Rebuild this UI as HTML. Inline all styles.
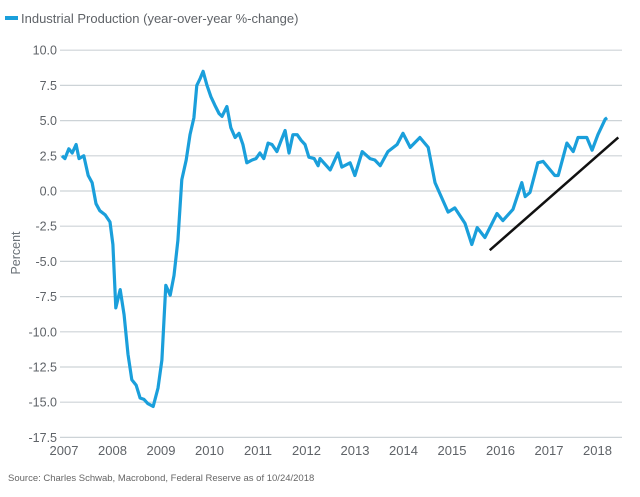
<!DOCTYPE html>
<html><head><meta charset="utf-8"><style>
body{margin:0;background:#fff;width:640px;height:492px;overflow:hidden;font-family:"Liberation Sans",sans-serif}
</style></head><body>
<svg id="chart" width="640" height="492" xmlns="http://www.w3.org/2000/svg">
<g id="grid"></g>
<g id="ylabels" font-size="12.5" fill="#5f6368" text-anchor="end"></g>
<g id="xlabels" font-size="13" fill="#5f6368" text-anchor="middle"></g>
<text transform="translate(20,253) rotate(-90)" font-size="12.5" fill="#6b7278" text-anchor="middle">Percent</text>
<g>
<line x1="5" y1="18" x2="18" y2="18" stroke="#1a9fdb" stroke-width="4"/>
<text x="21" y="23" font-size="13" fill="#5f6368">Industrial Production (year-over-year %-change)</text>
</g>
<path id="series" fill="none" stroke="#1a9fdb" stroke-width="3.2" stroke-linejoin="round"/>
<line id="trend" stroke="#111" stroke-width="2.5"/>
<text x="8" y="481" font-size="9.5" fill="#666">Source: Charles Schwab, Macrobond, Federal Reserve as of 10/24/2018</text>
</svg>
<script>
const yTicks=[10,7.5,5,2.5,0,-2.5,-5,-7.5,-10,-12.5,-15,-17.5];
const xYears=[2007,2008,2009,2010,2011,2012,2013,2014,2015,2016,2017,2018];
const dates=[2007.00,2007.06,2007.14,2007.21,2007.29,2007.35,2007.45,2007.54,2007.62,2007.70,2007.78,2007.89,2007.99,2008.05,2008.11,2008.20,2008.28,2008.36,2008.44,2008.53,2008.61,2008.69,2008.77,2008.88,2008.98,2009.06,2009.14,2009.23,2009.31,2009.39,2009.47,2009.56,2009.64,2009.72,2009.78,2009.85,2009.91,2009.99,2010.07,2010.15,2010.24,2010.30,2010.40,2010.48,2010.57,2010.65,2010.73,2010.81,2010.92,2011.00,2011.08,2011.16,2011.25,2011.33,2011.43,2011.52,2011.60,2011.68,2011.76,2011.85,2011.93,2012.01,2012.09,2012.20,2012.28,2012.32,2012.53,2012.69,2012.77,2012.94,2013.04,2013.19,2013.35,2013.45,2013.56,2013.72,2013.91,2014.03,2014.18,2014.38,2014.55,2014.69,2014.96,2015.10,2015.31,2015.45,2015.56,2015.72,2015.97,2016.09,2016.30,2016.48,2016.55,2016.65,2016.81,2016.92,2017.16,2017.23,2017.41,2017.54,2017.64,2017.82,2017.93,2018.05,2018.20,2018.24];
const values=[2.5,2.3,3.0,2.7,3.3,2.3,2.5,1.1,0.6,-0.9,-1.4,-1.7,-2.2,-3.8,-8.3,-7.0,-8.8,-11.6,-13.4,-13.8,-14.7,-14.8,-15.1,-15.3,-14.0,-12.0,-6.7,-7.4,-6.0,-3.5,0.8,2.2,4.0,5.2,7.5,8.0,8.5,7.5,6.7,6.1,5.5,5.3,6.0,4.5,3.8,4.1,3.3,2.0,2.2,2.3,2.7,2.3,3.4,3.3,2.8,3.6,4.3,2.7,4.0,4.0,3.6,3.3,2.4,2.3,1.8,2.3,1.5,2.7,1.7,2.0,1.1,2.8,2.3,2.2,1.8,2.8,3.3,4.1,3.1,3.8,3.1,0.6,-1.5,-1.2,-2.3,-3.8,-2.6,-3.3,-1.6,-2.1,-1.3,0.6,-0.4,-0.1,2.0,2.1,1.1,1.1,3.4,2.8,3.8,3.8,2.9,4.0,5.1,5.2];
const trendDates=[2015.82,2018.47];
const trendValues=[-4.2,3.8];
const NS='http://www.w3.org/2000/svg';
const X=t=>62+(t-2007)*48.5;
const Y=v=>191-v*14.08;
const grid=document.getElementById('grid'),yl=document.getElementById('ylabels'),xl=document.getElementById('xlabels');
yTicks.forEach(v=>{
const l=document.createElementNS(NS,'line');


l.setAttribute('x1',60);l.setAttribute('x2',622);l.setAttribute('y1',Y(v));l.setAttribute('y2',Y(v));
l.setAttribute('stroke','#cdd3d7');l.setAttribute('stroke-width','1.2');grid.appendChild(l);
const t=document.createElementNS(NS,'text');


t.setAttribute('x',57);t.setAttribute('y',Y(v)+4.5);t.textContent=v.toFixed(1);yl.appendChild(t);
});
xYears.forEach(y=>{
const t=document.createElementNS(NS,'text');


t.setAttribute('x',X(y)+2);t.setAttribute('y',455);t.textContent=y;xl.appendChild(t);
});
document.getElementById('series').setAttribute('d',dates.map((d,i)=>(i?'L':'M')+X(d).toFixed(1)+' '+Y(values[i]).toFixed(1)).join(' '));
const tr=document.getElementById('trend');
tr.setAttribute('x1',X(trendDates[0]));tr.setAttribute('y1',Y(trendValues[0]));
tr.setAttribute('x2',X(trendDates[1]));tr.setAttribute('y2',Y(trendValues[1]));
</script>
</body></html>
